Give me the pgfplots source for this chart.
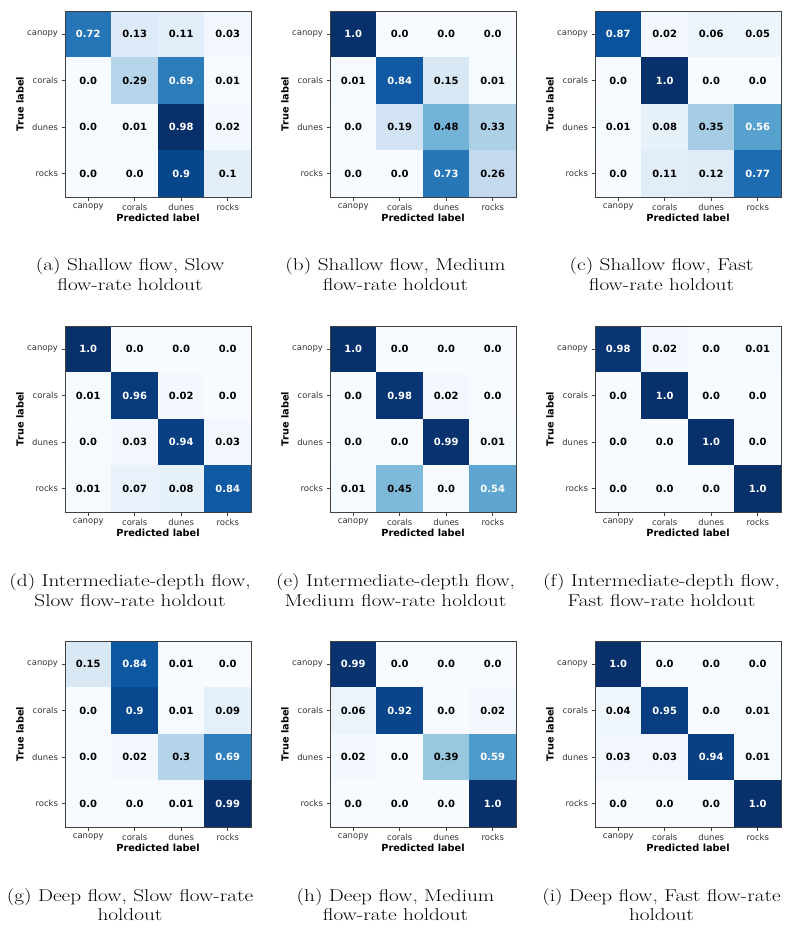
\documentclass[border=0pt]{standalone}
\usepackage{fontspec}
\usepackage{graphicx}
\usepackage{pgfplots}
\usepackage{pgfplotstable}
\pgfplotsset{compat=1.18}
\newfontfamily\dejavu{DejaVu Sans}

% confusion matrices, row = true label, col = predicted label
\pgfplotstableread{
x y v
0 0 0.72
1 0 0.13
2 0 0.11
3 0 0.03
0 1 0.0
1 1 0.29
2 1 0.69
3 1 0.01
0 2 0.0
1 2 0.01
2 2 0.98
3 2 0.02
0 3 0.0
1 3 0.0
2 3 0.9
3 3 0.1
}\tabA
\pgfplotstableread{
x y v
0 0 1.0
1 0 0.0
2 0 0.0
3 0 0.0
0 1 0.01
1 1 0.84
2 1 0.15
3 1 0.01
0 2 0.0
1 2 0.19
2 2 0.48
3 2 0.33
0 3 0.0
1 3 0.0
2 3 0.73
3 3 0.26
}\tabB
\pgfplotstableread{
x y v
0 0 0.87
1 0 0.02
2 0 0.06
3 0 0.05
0 1 0.0
1 1 1.0
2 1 0.0
3 1 0.0
0 2 0.01
1 2 0.08
2 2 0.35
3 2 0.56
0 3 0.0
1 3 0.11
2 3 0.12
3 3 0.77
}\tabC
\pgfplotstableread{
x y v
0 0 1.0
1 0 0.0
2 0 0.0
3 0 0.0
0 1 0.01
1 1 0.96
2 1 0.02
3 1 0.0
0 2 0.0
1 2 0.03
2 2 0.94
3 2 0.03
0 3 0.01
1 3 0.07
2 3 0.08
3 3 0.84
}\tabD
\pgfplotstableread{
x y v
0 0 1.0
1 0 0.0
2 0 0.0
3 0 0.0
0 1 0.0
1 1 0.98
2 1 0.02
3 1 0.0
0 2 0.0
1 2 0.0
2 2 0.99
3 2 0.01
0 3 0.01
1 3 0.45
2 3 0.0
3 3 0.54
}\tabE
\pgfplotstableread{
x y v
0 0 0.98
1 0 0.02
2 0 0.0
3 0 0.01
0 1 0.0
1 1 1.0
2 1 0.0
3 1 0.0
0 2 0.0
1 2 0.0
2 2 1.0
3 2 0.0
0 3 0.0
1 3 0.0
2 3 0.0
3 3 1.0
}\tabF
\pgfplotstableread{
x y v
0 0 0.15
1 0 0.84
2 0 0.01
3 0 0.0
0 1 0.0
1 1 0.9
2 1 0.01
3 1 0.09
0 2 0.0
1 2 0.02
2 2 0.3
3 2 0.69
0 3 0.0
1 3 0.0
2 3 0.01
3 3 0.99
}\tabG
\pgfplotstableread{
x y v
0 0 0.99
1 0 0.0
2 0 0.0
3 0 0.0
0 1 0.06
1 1 0.92
2 1 0.0
3 1 0.02
0 2 0.02
1 2 0.0
2 2 0.39
3 2 0.59
0 3 0.0
1 3 0.0
2 3 0.0
3 3 1.0
}\tabH
\pgfplotstableread{
x y v
0 0 1.0
1 0 0.0
2 0 0.0
3 0 0.0
0 1 0.04
1 1 0.95
2 1 0.0
3 1 0.01
0 2 0.03
1 2 0.03
2 2 0.94
3 2 0.01
0 3 0.0
1 3 0.0
2 3 0.0
3 3 1.0
}\tabI

\pgfplotsset{
  colormap={blues}{rgb255=(247,251,255) rgb255=(222,235,247) rgb255=(198,219,239)
    rgb255=(158,202,225) rgb255=(107,174,214) rgb255=(66,146,198) rgb255=(33,113,181)
    rgb255=(8,81,156) rgb255=(8,48,107)},
  cm/.style={
    anchor=north west, scale only axis, width=186bp, height=186bp,
    xmin=-0.5, xmax=3.5, ymin=-0.5, ymax=3.5, y dir=reverse,
    axis on top,
    axis line style={black!75, line width=0.6bp},
    xtick={0,1,2,3}, ytick={0,1,2,3},
    xticklabels={canopy,corals,dunes,rocks},
    yticklabels={canopy,corals,dunes,rocks},
    tick pos=left, tick align=outside, major tick length=3.5bp,
    every tick/.style={black!75, line width=0.6bp},
    tick label style={font=\dejavu\fontsize{8.5}{10}\selectfont, text=black!80},
    xlabel={Predicted label}, ylabel={True label},
    every axis x label/.style={at={(axis description cs:0.5,-0.113)}, anchor=center,
      font=\dejavu\bfseries\fontsize{9.8}{11}\selectfont},
    every axis y label/.style={at={(axis description cs:-0.242,0.5)}, anchor=center, rotate=90,
      font=\dejavu\bfseries\fontsize{9.8}{11}\selectfont},
    colormap name=blues, point meta min=0,
  },
}

\newcommand{\cmpanel}[4]{%
  \begin{axis}[cm, at={(#2bp,-#3bp)}, point meta max=#4]
    \addplot[matrix plot*, mesh/cols=4, point meta=explicit]
      table[meta=v] {#1};
    \addplot[only marks, mark=*, mark size=0pt, draw=none, fill=none,
      point meta=explicit symbolic,
      nodes near coords={\ifdim\pgfplotspointmeta pt>0.5pt\color{white}\fi\pgfplotspointmeta},
      every node near coord/.append style={anchor=center, text=black,
        font=\dejavu\bfseries\fontsize{10}{12}\selectfont}]
      table[meta=v] {#1};
  \end{axis}}

\newcommand{\capline}[3]{%
  \node[anchor=base, inner sep=0pt] at (#1bp,-#2bp)
    {\scalebox{1.24}[1]{\fontsize{17.2}{20}\selectfont #3}};}

\begin{document}
\begin{tikzpicture}
\useasboundingbox (0,0) rectangle (810bp,-933bp);

\cmpanel{\tabA}{65}{11}{0.98}
\cmpanel{\tabB}{330}{11}{1.0}
\cmpanel{\tabC}{595}{11}{1.0}
\cmpanel{\tabD}{65}{326}{1.0}
\cmpanel{\tabE}{330}{326}{1.0}
\cmpanel{\tabF}{595}{326}{1.0}
\cmpanel{\tabG}{65}{641}{0.99}
\cmpanel{\tabH}{330}{641}{1.0}
\cmpanel{\tabI}{595}{641}{1.0}

\capline{130}{270}{(a) Shallow flow, Slow}
\capline{130}{290}{flow-rate holdout}
\capline{395.5}{270}{(b) Shallow flow, Medium}
\capline{395.5}{290}{flow-rate holdout}
\capline{661.5}{270}{(c) Shallow flow, Fast}
\capline{661.5}{290}{flow-rate holdout}

\capline{130}{586}{(d) Intermediate-depth flow,}
\capline{130}{606}{Slow flow-rate holdout}
\capline{395.5}{586}{(e) Intermediate-depth flow,}
\capline{395.5}{606}{Medium flow-rate holdout}
\capline{661.5}{586}{(f) Intermediate-depth flow,}
\capline{661.5}{606}{Fast flow-rate holdout}

\capline{130}{901}{(g) Deep flow, Slow flow-rate}
\capline{130}{920}{holdout}
\capline{395.5}{901}{(h) Deep flow, Medium}
\capline{395.5}{920}{flow-rate holdout}
\capline{661.5}{901}{(i) Deep flow, Fast flow-rate}
\capline{661.5}{920}{holdout}
\end{tikzpicture}
\end{document}
